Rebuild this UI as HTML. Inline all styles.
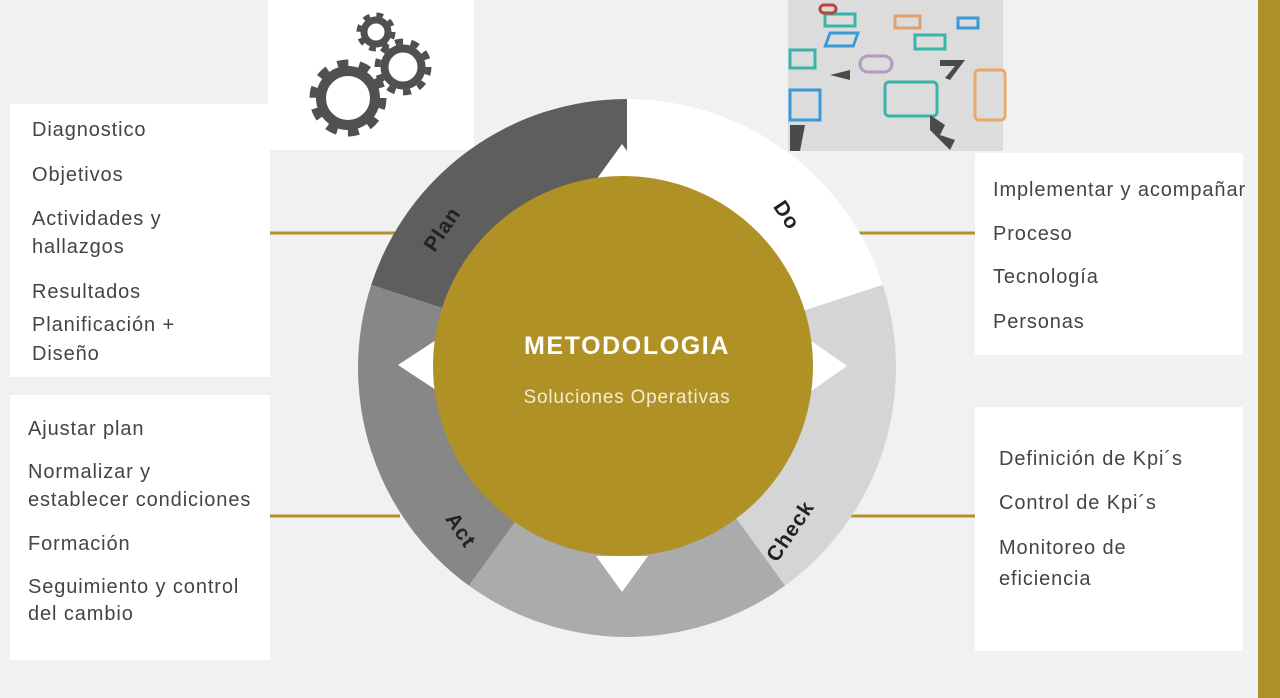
<!DOCTYPE html>
<html><head><meta charset="utf-8"><style>
body{margin:0;width:1280px;height:698px;background:#f0f1f3;overflow:hidden;position:relative;font-family:"Liberation Sans",sans-serif}
.box{position:absolute;background:#fff}
.t{position:absolute;font-size:20px;color:#444;letter-spacing:0.9px;white-space:nowrap;line-height:1;transform:translateY(-50%)}
</style></head><body>
<div class="box" style="left:10px;top:104px;width:260px;height:273px"></div>
<div class="box" style="left:10px;top:395px;width:260px;height:265px"></div>
<div class="box" style="left:975px;top:153px;width:268px;height:202px"></div>
<div class="box" style="left:975px;top:407px;width:268px;height:244px"></div>
<div class="box" style="left:268px;top:0;width:206px;height:150px"></div>
<div style="position:absolute;left:1258px;top:0;width:22px;height:698px;background:#ae9128"></div>
<svg width="1280" height="698" style="position:absolute;left:0;top:0">
<g stroke="#b0912a" stroke-width="3">
<line x1="270" y1="233" x2="400" y2="233"/><line x1="855" y1="233" x2="975" y2="233"/>
<line x1="270" y1="516" x2="400" y2="516"/><line x1="850" y1="516" x2="975" y2="516"/>
</g>
<g fill="none" stroke="#505050">
<circle cx="348" cy="98" r="27" stroke-width="10"/><circle cx="348" cy="98" r="35" stroke-width="7" stroke-dasharray="11 11"/>
<circle cx="403" cy="67" r="18.5" stroke-width="8"/><circle cx="403" cy="67" r="25.5" stroke-width="6" stroke-dasharray="8 8"/>
<circle cx="376" cy="32" r="12" stroke-width="7"/><circle cx="376" cy="32" r="17" stroke-width="5" stroke-dasharray="6.7 6.7"/>
</g>
<rect x="788" y="0" width="215" height="151" fill="#dcdcdc"/>
<g fill="none" stroke-width="3">
<rect x="825" y="14" width="30" height="12" stroke="#3ab3a8"/>
<rect x="842" y="33" width="28" height="13" stroke="#3a9ad8" transform="skewX(-20)"/>
<rect x="895" y="16" width="25" height="12" stroke="#e0a070"/>
<rect x="915" y="35" width="30" height="14" stroke="#3ab3a8"/>
<rect x="860" y="56" width="32" height="16" rx="8" stroke="#b49ac0"/>
<rect x="885" y="82" width="52" height="34" rx="4" stroke="#3ab3a8"/>
<rect x="975" y="70" width="30" height="50" rx="4" stroke="#e8a868"/>
<rect x="790" y="90" width="30" height="30" stroke="#3a9ad8"/>
<rect x="790" y="50" width="25" height="18" stroke="#3ab3a8"/>
<rect x="958" y="18" width="20" height="10" stroke="#3a9ad8"/>
<rect x="820" y="5" width="16" height="8" rx="4" stroke="#c04040"/>
</g>
<g fill="#4a4a4a"><polygon points="930,115 945,125 940,135 955,140 950,150 930,130"/><polygon points="830,75 850,70 850,80"/><polygon points="790,125 805,125 800,151 790,151"/><polygon points="940,60 965,60 950,80 945,78 955,66 940,66"/></g>
<path d="M627 368 L371.2 284.9 A269 269 0 0 1 627 99 Z" fill="#5e5e5e"/>
<path d="M627 368 L627 99 A269 269 0 0 1 882.8 284.9 Z" fill="#ffffff"/>
<path d="M627 368 L882.8 284.9 A269 269 0 0 1 785.1 585.6 Z" fill="#d5d5d5"/>
<path d="M627 368 L785.1 585.6 A269 269 0 0 1 468.9 585.6 Z" fill="#ababab"/>
<path d="M627 368 L468.9 585.6 A269 269 0 0 1 371.2 284.9 Z" fill="#878787"/>
<g fill="#fff">
<polygon points="622,144 596,180 648,180"/>
<polygon points="398,365 436,340 436,390"/>
<polygon points="847,366 810,340 810,392"/>
<polygon points="622,592 596,556 648,556"/>
</g>
<circle cx="623" cy="366" r="190" fill="#b09126"/>
<text x="627" y="354" text-anchor="middle" font-family="Liberation Sans" font-weight="bold" font-size="25" fill="#fff" letter-spacing="1.6">METODOLOGIA</text>
<text x="627" y="403" text-anchor="middle" font-family="Liberation Sans" font-size="19" fill="#f3ecd6" letter-spacing="0.8">Soluciones Operativas</text>
<g font-family="Liberation Sans" font-weight="bold" font-size="21" fill="#222" text-anchor="middle" letter-spacing="1">
<text transform="translate(448,233) rotate(-56)">Plan</text>
<text transform="translate(781,219) rotate(56)">Do</text>
<text transform="translate(796,535) rotate(-56)">Check</text>
<text transform="translate(455,534) rotate(56)">Act</text>
</g>
</svg>
<div class="t" style="left:32px;top:130px">Diagnostico</div>
<div class="t" style="left:32px;top:175px">Objetivos</div>
<div class="t" style="left:32px;top:219px">Actividades y</div>
<div class="t" style="left:32px;top:247px">hallazgos</div>
<div class="t" style="left:32px;top:292px">Resultados</div>
<div class="t" style="left:32px;top:325px">Planificación +</div>
<div class="t" style="left:32px;top:354px">Diseño</div>
<div class="t" style="left:28px;top:429px">Ajustar plan</div>
<div class="t" style="left:28px;top:472px">Normalizar y</div>
<div class="t" style="left:28px;top:500px">establecer condiciones</div>
<div class="t" style="left:28px;top:544px">Formación</div>
<div class="t" style="left:28px;top:587px">Seguimiento y control</div>
<div class="t" style="left:28px;top:614px">del cambio</div>
<div class="t" style="left:993px;top:190px">Implementar y acompañar</div>
<div class="t" style="left:993px;top:234px">Proceso</div>
<div class="t" style="left:993px;top:277px">Tecnología</div>
<div class="t" style="left:993px;top:322px">Personas</div>
<div class="t" style="left:999px;top:459px">Definición de Kpi´s</div>
<div class="t" style="left:999px;top:503px">Control de Kpi´s</div>
<div class="t" style="left:999px;top:548px">Monitoreo de</div>
<div class="t" style="left:999px;top:579px">eficiencia</div>
</body></html>
